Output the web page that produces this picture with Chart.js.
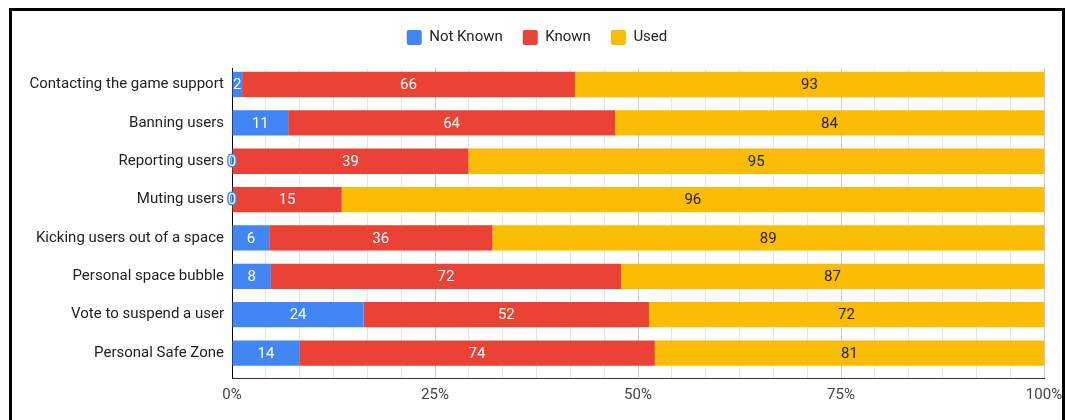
<!DOCTYPE html>
<html>
<head>
<meta charset="utf-8">
<script src="https://cdn.jsdelivr.net/npm/chart.js@4/dist/chart.umd.min.js"></script>
<style>
  html, body { margin: 0; padding: 0; background: #fff; }
  #wrap { position: relative; width: 1067px; height: 420px; overflow: hidden; }
  #frame {
    position: absolute; left: 9px; top: 8px; width: 1056px; height: 440px;
    box-sizing: border-box; border: 3px solid #000; border-bottom: none;
    pointer-events: none;
  }
</style>
</head>
<body>
<div id="wrap">
  <canvas id="featureChart" width="1067" height="420"></canvas>
  <div id="frame"></div>
</div>
<script>
var categories = [
    "Contacting the game support",
    "Banning users",
    "Reporting users",
    "Muting users",
    "Kicking users out of a space",
    "Personal space bubble",
    "Vote to suspend a user",
    "Personal Safe Zone"
];
var notKnown = [2, 11, 0, 0, 6, 8, 24, 14];
var known = [66, 64, 39, 15, 36, 72, 52, 74];
var used = [93, 84, 95, 96, 89, 87, 72, 81];
var seriesNames = ["Not Known", "Known", "Used"];
var xTickLabels = ["0%", "25%", "50%", "75%", "100%"];

var counts = [notKnown, known, used];
var colors = ["#4285F4", "#EA4335", "#FBBC04"];
var labelColors = ["#fff", "#fff", "#222"];

// share of each row, so every bar adds up to 100%
var totals = categories.map(function (_, i) {
    return notKnown[i] + known[i] + used[i];
});
function share(arr) {
    return arr.map(function (v, i) { return v / totals[i] * 100; });
}

var FONT = "Roboto, Arial, sans-serif";
Chart.defaults.font.family = FONT;
Chart.defaults.font.size = 15;

// counts written in the middle of each segment
var barLabels = {
    id: "barLabels",
    afterDatasetsDraw: function (chart) {
        var ctx = chart.ctx;
        ctx.save();
        ctx.font = "15px " + FONT;
        ctx.textAlign = "center";
        ctx.textBaseline = "middle";
        chart.data.datasets.forEach(function (ds, d) {
            var meta = chart.getDatasetMeta(d);
            meta.data.forEach(function (bar, i) {
                var raw = counts[d][i];
                var text = String(raw);
                var cx = (bar.x + bar.base) / 2;
                if (raw === 0) {
                    ctx.lineWidth = 3;
                    ctx.lineJoin = "round";
                    ctx.strokeStyle = colors[d];
                    ctx.strokeText(text, cx, bar.y + 1);
                    ctx.fillStyle = "#fff";
                    ctx.fillText(text, cx, bar.y + 1);
                } else {
                    ctx.fillStyle = labelColors[d];
                    ctx.fillText(text, cx, bar.y + 1);
                }
            });
        });
        ctx.restore();
    }
};

// fixed legend block height, legend centred on the whole frame
var legendBox = {
    id: "legendBox",
    beforeInit: function (chart) {
        var fit = chart.legend.fit;
        chart.legend.fit = function () {
            fit.call(this);
            this.height = 58;
        };
    },
    afterLayout: function (chart) {
        chart.legend.left += 15;
        chart.legend.right += 15;
    }
};

new Chart(document.getElementById("featureChart").getContext("2d"), {
    type: "bar",
    data: {
        labels: categories,
        datasets: [0, 1, 2].map(function (d) {
            return {
                label: seriesNames[d],
                data: share(counts[d]),
                backgroundColor: colors[d],
                borderWidth: 0,
                barPercentage: 0.66,
                categoryPercentage: 1
            };
        })
    },
    options: {
        indexAxis: "y",
        responsive: false,
        animation: false,
        layout: { padding: { top: 10, right: 23, bottom: 0, left: 0 } },
        plugins: {
            legend: {
                position: "top",
                labels: {
                    boxWidth: 15,
                    boxHeight: 15,
                    useBorderRadius: true,
                    borderRadius: 2,
                    padding: 20,
                    color: "#222",
                    font: { size: 15 }
                }
            },
            tooltip: { enabled: false }
        },
        scales: {
            x: {
                stacked: true,
                min: 0,
                max: 100,
                afterBuildTicks: function (s) {
                    var t = [];
                    for (var i = 0; i <= 24; i++) t.push({ value: i * 100 / 24 });
                    s.ticks = t;
                },
                afterFit: function (s) {
                    s.height = 42;
                    s.paddingLeft = 0;
                    s.paddingRight = 0;
                },
                ticks: {
                    autoSkip: false,
                    maxRotation: 0,
                    padding: 8,
                    color: "#444",
                    callback: function (v) {
                        var q = v / 25;
                        if (Math.abs(q - Math.round(q)) < 1e-6) return xTickLabels[Math.round(q)];
                        return "";
                    }
                },
                grid: {
                    drawTicks: false,
                    color: function (c) {
                        var q = c.tick ? c.tick.value / 25 : 0.5;
                        return Math.abs(q - Math.round(q)) < 1e-6 ? "#cccccc" : "#e6e6e6";
                    }
                },
                border: { display: true, color: "#333" }
            },
            y: {
                stacked: true,
                afterFit: function (s) { s.width = 232; },
                afterBuildTicks: function (s) {
                    // first band sits a little above the plot top
                    s._startValue = -0.43;
                    s._valueRange = 8.08;
                },
                ticks: { color: "#222", padding: 8 },
                grid: { display: false, drawTicks: false },
                border: { display: true, color: "#000" }
            }
        }
    },
    plugins: [barLabels, legendBox]
});
</script>
</body>
</html>
